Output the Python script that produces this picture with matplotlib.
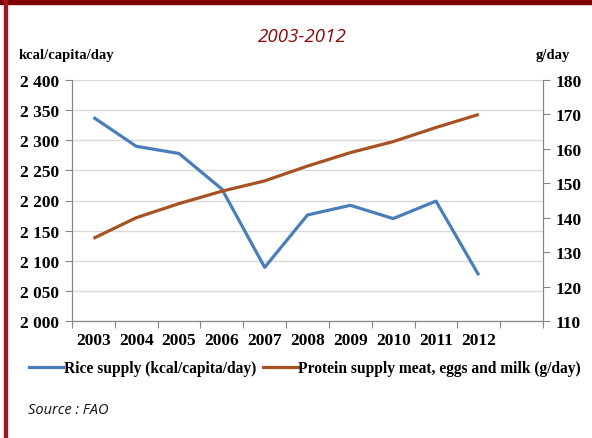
import matplotlib
matplotlib.use('Agg')
import matplotlib.pyplot as plt
from matplotlib.patches import Rectangle
from matplotlib.lines import Line2D

# ── data ──────────────────────────────────────────────────────────────────────
years   = ['2003','2004','2005','2006','2007','2008','2009','2010','2011','2012']
rice    = [2338, 2290, 2278, 2219, 2089, 2176, 2192, 2170, 2199, 2076]
protein = [134.0, 140.0, 144.1, 147.7, 150.7, 155.0, 158.9, 162.1, 166.2, 170.0]

blue, brown, dred = '#4A7EBB', '#A65223', '#8B0A0A'
serif = 'Liberation Serif'

fig = plt.figure(figsize=(5.92, 4.39), dpi=100)
fig.patches.append(Rectangle((0, 1-5/439), 1, 5/439, transform=fig.transFigure, color='#7F0000', zorder=0))
fig.patches.append(Rectangle((4/592, 0), 2.5/592, 1, transform=fig.transFigure, color='#9B1B1B', zorder=0))

ax = fig.add_axes([72/592, 1-322/439, 471/592, 241/439])
ax2 = ax.twinx()
x = list(range(len(years)))
ax.plot(x, rice, color=blue, lw=2.3, solid_capstyle='butt', zorder=3)
ax2.plot(x, protein, color=brown, lw=2.3, solid_capstyle='butt', zorder=3)

ax.set_xlim(-0.5, 10.5)
ax.set_ylim(2000, 2400)
ax2.set_ylim(110, 180)
ax.set_yticks(range(2000, 2401, 50))
ax.set_yticklabels([f'{v//1000} {v%1000:03d}' for v in range(2000, 2401, 50)])
ax2.set_yticks(range(110, 181, 10))
ax.set_xticks([i - 0.5 for i in range(12)])
ax.set_xticklabels([])
ax.set_xticks(x, minor=True)
ax.set_xticklabels(years, minor=True)
ax.tick_params(axis='x', which='minor', length=0, pad=8)
ax.tick_params(axis='x', which='major', length=5, color='#868686')
ax.yaxis.grid(True, color='#D9D9D9', lw=1)
ax.set_axisbelow(True)
for a in (ax, ax2):
    a.spines['top'].set_visible(False)
    for s in ('left', 'right', 'bottom'):
        a.spines[s].set_color('#868686')
    a.tick_params(axis='y', length=5, color='#868686', pad=4)
for lab in ax.get_yticklabels() + ax2.get_yticklabels() + ax.get_xticklabels(minor=True):
    lab.set_fontfamily(serif); lab.set_fontweight('bold'); lab.set_fontsize(12.5)

fig.text(302/592, 1-37/439, '2003-2012', ha='center', va='center', color=dred,
         fontsize=13.5, style='italic', family='Open Sans')
fig.text(19/592, 1-56/439, 'kcal/capita/day', ha='left', va='center',
         family=serif, weight='bold', fontsize=10.5)
fig.text(570/592, 1-56/439, 'g/day', ha='right', va='center',
         family=serif, weight='bold', fontsize=10.5)

handles = [Line2D([], [], color=blue, lw=2.3), Line2D([], [], color=brown, lw=2.3)]
fig.legend(handles, ['Rice supply (kcal/capita/day)', 'Protein supply meat, eggs and milk (g/day)'],
           loc='center', bbox_to_anchor=(305/592, 1-369/439), ncol=2, frameon=False,
           prop={'family': serif, 'weight': 'bold', 'size': 11.2},
           handlelength=2.2, handletextpad=0.05, columnspacing=0.45)

fig.text(28/592, 1-411/439, 'Source : FAO', ha='left', va='center', style='italic',
         family='Open Sans', fontsize=10.5, color='#111111')

fig.savefig('out.png', dpi=100)
